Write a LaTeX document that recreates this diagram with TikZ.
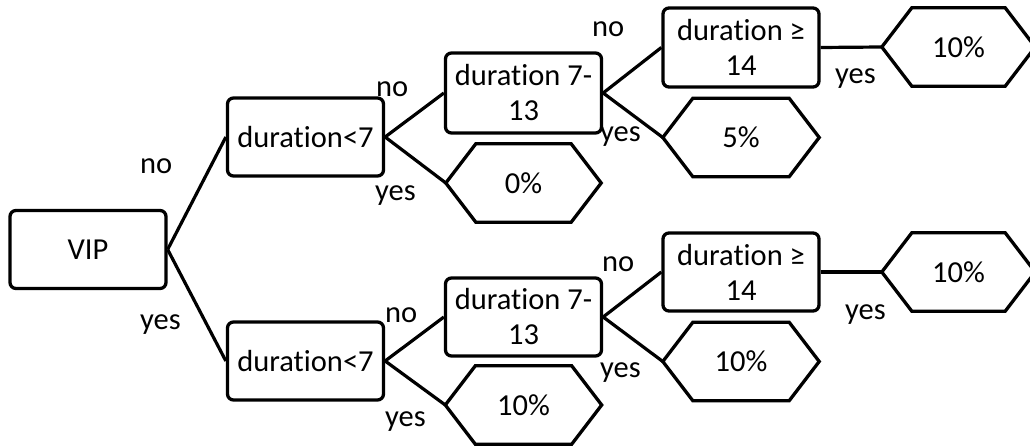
\documentclass[tikz,border=0pt]{standalone}
\usepackage{fontspec}
\setmainfont{Carlito}[RawFeature={-liga}]
\begin{document}
\begin{tikzpicture}[x=1pt,y=-1pt,
  every node/.style={font=\fontsize{30.5}{35}\selectfont},
  test/.style={draw, line width=3.3pt, rounded corners=6pt, inner sep=0pt,
    align=center, minimum width=156pt, minimum height=78pt},
  leaf/.style={inner sep=0pt, minimum height=78pt},
  edge/.style={line width=3.2pt},
  lbl/.style={anchor=base west, inner sep=0pt}]
\useasboundingbox (0,0) rectangle (1030,446);

% leaf: hexagon with pointed ends drawn round a plain node
\newcommand\hexleaf[4]{%
  \node[leaf, minimum width=#3] (#1) at #2 {#4};
  \draw[edge, line width=3.3pt] (#1.west) -- ([xshift=30pt]#1.north west)
    -- ([xshift=-30pt]#1.north east) -- (#1.east)
    -- ([xshift=-30pt]#1.south east) -- ([xshift=30pt]#1.south west) -- cycle;}

% decision boxes
\node[test] (vip) at (88,249.5) {VIP};
\node[test] (d1) at (305.5,137) {duration<7};
\node[test] (d2) at (305.5,361) {duration<7};
\node[test, minimum height=80pt] (m1) at (523.5,93) {duration 7-\\13};
\node[test] (m2) at (523.5,317) {duration 7-\\13};
\node[test, minimum height=79pt] (l1) at (741,47.5) {duration ≥\\14};
\node[test] (l2) at (741,272) {duration ≥\\14};

% outcomes
\hexleaf{h0}{(523.5,183)}{155pt}{0\%}
\hexleaf{h5}{(741,137.5)}{156pt}{5\%}
\hexleaf{ha}{(958.5,47)}{153pt}{10\%}
\hexleaf{hb}{(523.5,405)}{156pt}{10\%}
\hexleaf{hc}{(741,361.5)}{156pt}{10\%}
\hexleaf{hd}{(958.5,272)}{153pt}{10\%}

% branches
\draw[edge] (vip.east) -- (d1.west);
\draw[edge] (vip.east) -- (d2.west);
\draw[edge] (d1.east) -- (m1.west);
\draw[edge] (d1.east) -- (h0.west);
\draw[edge] (m1.east) -- (l1.west);
\draw[edge] (m1.east) -- (h5.west);
\draw[edge] (l1.east) -- (ha.west);
\draw[edge] (d2.east) -- (m2.west);
\draw[edge] (d2.east) -- (hb.west);
\draw[edge] (m2.east) -- (l2.west);
\draw[edge] (m2.east) -- (hc.west);
\draw[edge] (l2.east) -- (hd.west);

% branch labels
\node[lbl] (n1) at (140,174) {no};
\node[lbl] (y1) at (140,329) {yes};
\node[lbl] (n2) at (376,97) {no};
\node[lbl] (y2) at (375,201) {yes};
\node[lbl] (n3) at (592,37) {no};
\node[lbl] (y3) at (600,142) {yes};
\node[lbl] (y4) at (835,84) {yes};
\node[lbl] (n4) at (385,322) {no};
\node[lbl] (y5) at (385,426) {yes};
\node[lbl] (n5) at (602,272) {no};
\node[lbl] (y6) at (600,377) {yes};
\node[lbl] (y7) at (845,319) {yes};
\end{tikzpicture}
\end{document}
